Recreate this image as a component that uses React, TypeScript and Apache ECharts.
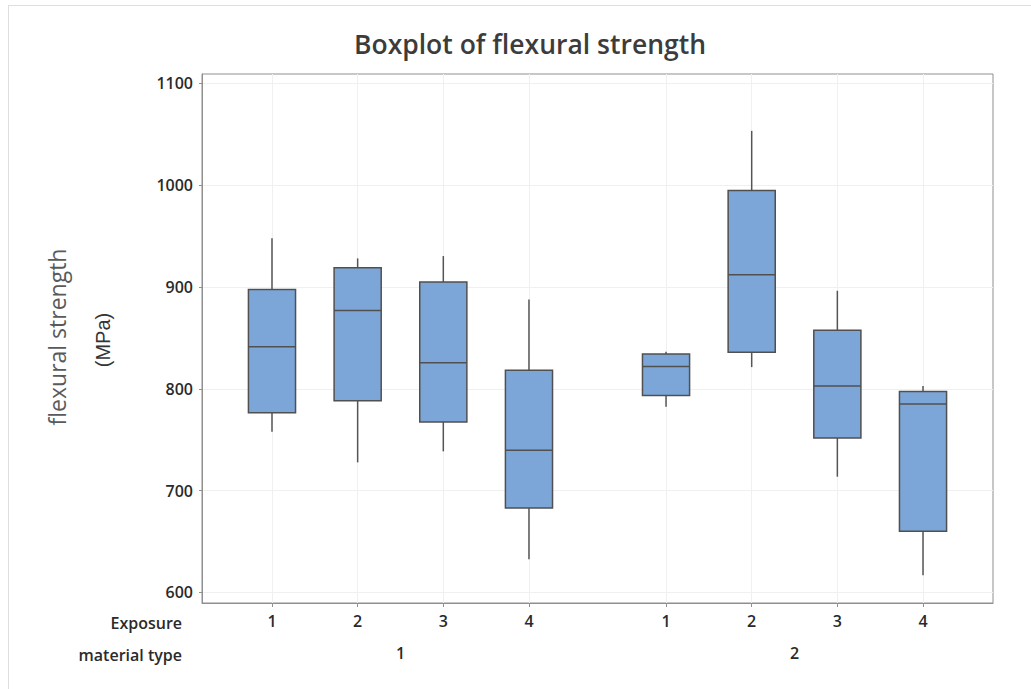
import React, { useEffect, useRef } from "react";
import * as echarts from "echarts";

const materialTypes = ["1", "2"];
const exposureLevels = ["1", "2", "3", "4"];
const whiskerLow = [757.8, 727.7, 738.5, 632.4, 782.3, 821.3, 713.6, 616.7];
const q1 = [776.4, 788.2, 767.3, 682.8, 793.5, 836.0, 751.6, 659.9];
const median = [841.3, 877.0, 825.5, 739.5, 822.0, 912.0, 802.7, 785.0];
const q3 = [897.6, 918.9, 904.8, 818.1, 834.1, 994.9, 857.4, 797.4];
const whiskerHigh = [947.8, 928.1, 930.4, 887.8, 836.3, 1053.4, 896.3, 802.7];
const yTicks = [600, 700, 800, 900, 1000, 1100];

const GROUP_GAP = 0.6;
const pos = (g: number, i: number) => g * (exposureLevels.length + GROUP_GAP) + i + 1;

const FONT = "'Open Sans', 'Noto Sans', sans-serif";

export default function App() {
  const ref = useRef<HTMLDivElement>(null);
  useEffect(() => {
    if (!ref.current) return;
    const chart = echarts.init(ref.current, undefined, { renderer: "svg" });

    const rows: number[][] = [];
    const tickPos: number[] = [];
    const tickLabel: string[] = [];
    const matPos: number[] = [];
    materialTypes.forEach((m, g) => {
      exposureLevels.forEach((e, i) => {
        const k = g * exposureLevels.length + i;
        const x = pos(g, i);
        rows.push([x, whiskerLow[k], q1[k], median[k], q3[k], whiskerHigh[k]]);
        tickPos.push(x);
        tickLabel.push(e);
      });
      matPos.push((pos(g, 0) + pos(g, exposureLevels.length - 1)) / 2);
    });
    const findLabel = (v: number, ps: number[], ls: string[]) => {
      for (let i = 0; i < ps.length; i++) if (Math.abs(ps[i] - v) < 1e-6) return ls[i];
      return "";
    };

    const xMin = 0.183;
    const xMax = pos(1, 3) + (1 - xMin);
    const labelStyle = { fontFamily: FONT, fontSize: 16, fontWeight: 600, color: "#2a2a2a" };

    chart.setOption({
      animation: false,
      backgroundColor: "#ffffff",
      title: {
        text: "Boxplot of flexural strength",
        left: 525,
        textAlign: "center",
        top: 25,
        textStyle: { fontFamily: FONT, fontSize: 26.5, fontWeight: 600, color: "#3c3c3c" },
      },
      grid: {
        left: 202,
        right: 38,
        top: 74,
        bottom: 86,
        show: true,
        borderColor: "#8f8f8f",
        borderWidth: 1,
      },
      xAxis: [
        {
          type: "value",
          min: xMin,
          max: xMax,
          axisLine: { show: true, lineStyle: { color: "#8f8f8f", width: 1 } },
          axisTick: { show: true, length: 4, customValues: tickPos, lineStyle: { color: "#8f8f8f" } },
          axisLabel: {
            customValues: tickPos,
            margin: 10,
            formatter: (v: number) => findLabel(v, tickPos, tickLabel),
            ...labelStyle,
          },
          splitLine: { show: true, lineStyle: { color: "#f0f0f0", width: 1 } },
        },
        {
          type: "value",
          min: xMin,
          max: xMax,
          position: "bottom",
          offset: 32,
          axisLine: { show: false },
          axisTick: { show: false, customValues: matPos },
          axisLabel: {
            customValues: matPos,
            margin: 10,
            formatter: (v: number) => findLabel(v, matPos, materialTypes),
            ...labelStyle,
          },
          splitLine: { show: false },
        },
      ],
      yAxis: {
        type: "value",
        min: 589.5,
        max: 1109.3,
        axisLine: { show: true, lineStyle: { color: "#8f8f8f", width: 1 } },
        axisTick: { show: true, length: 3, customValues: yTicks, lineStyle: { color: "#8f8f8f" } },
        axisLabel: {
          customValues: yTicks,
          margin: 9,
          formatter: (v: number) => String(v),
          ...labelStyle,
        },
        splitLine: { show: true, lineStyle: { color: "#f0f0f0", width: 1 } },
      },
      graphic: [
        { type: "line", shape: { x1: 8.5, y1: 5, x2: 8.5, y2: 689 }, style: { stroke: "#dedede", lineWidth: 1 } },
        { type: "line", shape: { x1: 8, y1: 5.5, x2: 1031, y2: 5.5 }, style: { stroke: "#dedede", lineWidth: 1 } },
        {
          type: "text",
          x: 57,
          y: 337,
          rotation: Math.PI / 2,
          style: {
            text: "flexural strength",
            fontFamily: FONT,
            fontSize: 23,
            fill: "#5a5a5a",
            align: "center",
            verticalAlign: "middle",
          },
        },
        {
          type: "text",
          x: 103,
          y: 340,
          rotation: Math.PI / 2,
          style: {
            text: "(MPa)",
            fontFamily: "'Liberation Sans', Arial, sans-serif",
            fontSize: 20,
            fill: "#333",
            align: "center",
            verticalAlign: "middle",
          },
        },
        {
          type: "text",
          x: 182,
          y: 623,
          style: { text: "Exposure", fontFamily: FONT, fontSize: 16, fontWeight: 600, fill: "#2a2a2a", align: "right", verticalAlign: "middle" },
        },
        {
          type: "text",
          x: 182,
          y: 655,
          style: { text: "material type", fontFamily: FONT, fontSize: 16, fontWeight: 600, fill: "#2a2a2a", align: "right", verticalAlign: "middle" },
        },
      ],
      series: [
        {
          type: "custom",
          xAxisIndex: 0,
          yAxisIndex: 0,
          data: rows,
          encode: { x: 0, y: [1, 2, 3, 4, 5] },
          renderItem: (params: any, api: any) => {
            const x = api.value(0);
            const lo = api.coord([x, api.value(1)]);
            const b1 = api.coord([x, api.value(2)]);
            const md = api.coord([x, api.value(3)]);
            const b3 = api.coord([x, api.value(4)]);
            const hi = api.coord([x, api.value(5)]);
            const w = api.size([0.55, 0])[0];
            const cx = lo[0];
            const lineStyle = { stroke: "#555555", lineWidth: 1.5 };
            return {
              type: "group",
              children: [
                { type: "line", shape: { x1: cx, y1: lo[1], x2: cx, y2: b1[1] }, style: lineStyle },
                { type: "line", shape: { x1: cx, y1: b3[1], x2: cx, y2: hi[1] }, style: lineStyle },
                {
                  type: "rect",
                  shape: { x: cx - w / 2, y: b3[1], width: w, height: b1[1] - b3[1] },
                  style: { fill: "#7ca6d8", stroke: "#505050", lineWidth: 1.5 },
                },
                { type: "line", shape: { x1: cx - w / 2, y1: md[1], x2: cx + w / 2, y2: md[1] }, style: { stroke: "#505050", lineWidth: 1.5 } },
              ],
            };
          },
        },
      ],
    });
    return () => chart.dispose();
  }, []);
  return <div ref={ref} style={{ position: "absolute", left: 0, top: 0, width: 1031, height: 689 }} />;
}
